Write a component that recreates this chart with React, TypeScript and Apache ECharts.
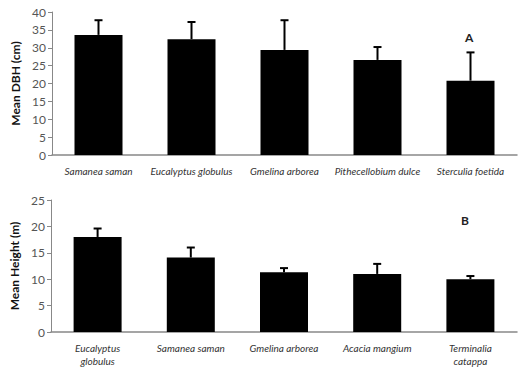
import React, { useEffect, useRef } from "react";
import * as echarts from "echarts";

const dbhSpecies = ["Samanea saman", "Eucalyptus globulus", "Gmelina arborea", "Pithecellobium dulce", "Sterculia foetida"];
const dbhMeans = [33.6, 32.4, 29.4, 26.6, 20.8];
const dbhErrors = [4.1, 4.8, 8.3, 3.6, 7.9];

const heightSpecies = ["Eucalyptus\nglobulus", "Samanea saman", "Gmelina arborea", "Acacia mangium", "Terminalia\ncatappa"];
const heightMeans = [18.0, 14.1, 11.3, 11.0, 10.0];
const heightErrors = [1.6, 1.9, 0.8, 1.9, 0.6];

const FONT = "Lato, 'Liberation Sans', sans-serif";

function errorRender(means: number[], errs: number[]) {
  return (params: any, api: any) => {
    const i = params.dataIndex;
    const base = api.coord([i, means[i]]);
    const top = api.coord([i, means[i] + errs[i]]);
    const style = { stroke: "#000", lineWidth: 2 };
    return {
      type: "group",
      children: [
        { type: "line", shape: { x1: base[0], y1: base[1], x2: top[0], y2: top[1] }, style },
        { type: "line", shape: { x1: top[0] - 4, y1: top[1], x2: top[0] + 4, y2: top[1] }, style },
      ],
    };
  };
}

export default function App() {
  const ref = useRef<HTMLDivElement>(null);
  useEffect(() => {
    if (!ref.current) return;
    const chart = echarts.init(ref.current, null, { renderer: "svg" });
    const yAxisCommon = {
      type: "value" as const,
      axisLine: { show: true, lineStyle: { color: "#888", width: 1 } },
      axisTick: { show: true, length: 4, lineStyle: { color: "#888" } },
      splitLine: { show: false },
      axisLabel: { color: "#555", fontSize: 12, fontFamily: FONT, margin: 6 },
      nameLocation: "middle" as const,
      nameTextStyle: { fontWeight: "bold" as const, fontSize: 12, color: "#111", fontFamily: FONT },
    };
    const xAxisCommon = {
      type: "category" as const,
      axisLine: { show: true, lineStyle: { color: "#888", width: 1.5 } },
      axisTick: { show: false },
      axisLabel: { color: "#333", fontSize: 10, fontStyle: "italic" as const, fontFamily: FONT, margin: 9, interval: 0, lineHeight: 13 },
    };
    chart.setOption({
      animation: false,
      backgroundColor: "#fff",
      grid: [
        { left: 52, right: 4, top: 12, bottom: 214 },
        { left: 51, right: 4, top: 200, bottom: 37 },
      ],
      xAxis: [
        { ...xAxisCommon, gridIndex: 0, data: dbhSpecies },
        { ...xAxisCommon, gridIndex: 1, data: heightSpecies },
      ],
      yAxis: [
        { ...yAxisCommon, gridIndex: 0, min: 0, max: 40, interval: 5, name: "Mean DBH (cm)", nameGap: 25 },
        { ...yAxisCommon, gridIndex: 1, min: 0, max: 25, interval: 5, name: "Mean Height (m)", nameGap: 28 },
      ],
      graphic: [
        { type: "text", left: 465, top: 31, style: { text: "A", font: `bold 12px ${FONT}`, fill: "#222" } },
        { type: "text", left: 461, top: 214, style: { text: "B", font: `bold 12px ${FONT}`, fill: "#222" } },
      ],
      series: [
        { type: "bar", xAxisIndex: 0, yAxisIndex: 0, data: dbhMeans, barWidth: 48, itemStyle: { color: "#000" } },
        { type: "custom", xAxisIndex: 0, yAxisIndex: 0, data: dbhMeans.map((m, i) => [i, m + dbhErrors[i]]), renderItem: errorRender(dbhMeans, dbhErrors), z: 3 },
        { type: "bar", xAxisIndex: 1, yAxisIndex: 1, data: heightMeans, barWidth: 48, itemStyle: { color: "#000" } },
        { type: "custom", xAxisIndex: 1, yAxisIndex: 1, data: heightMeans.map((m, i) => [i, m + heightErrors[i]]), renderItem: errorRender(heightMeans, heightErrors), z: 3 },
      ],
    });
    return () => chart.dispose();
  }, []);
  return <div ref={ref} style={{ width: 521, height: 369, position: "absolute", left: 0, top: 0 }} />;
}
